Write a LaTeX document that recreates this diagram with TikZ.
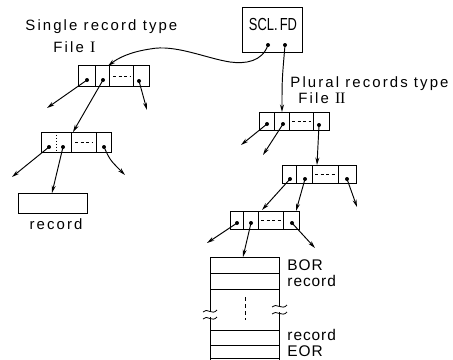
\documentclass[tikz,border=0pt]{standalone}
\usepackage{fontspec}
\setmainfont{Liberation Sans}
\newfontfamily\romfont{Liberation Serif}
\newfontfamily\spaced[LetterSpace=14]{Liberation Sans}
\newfontfamily\lspaced[LetterSpace=6]{Liberation Sans}
\usetikzlibrary{arrows.meta}
\begin{document}
\begin{tikzpicture}[x=1bp,y=-1bp, line width=0.95bp,
  box/.style={draw, rectangle, inner sep=0pt, anchor=north west},
  dotn/.style={circle, fill, inner sep=0pt, minimum size=4bp},
  ptr/.style={-{Stealth[length=7.5bp,width=4bp]}},
  lab/.style={inner sep=0pt, anchor=base west, font=\fontsize{15}{17}\selectfont\spaced},
  rlab/.style={inner sep=0pt, anchor=base west, font=\fontsize{15.5}{17}\selectfont\lspaced},
  celldash/.style={dash pattern=on 3bp off 2.5bp},
  breakmark/.style={line width=0.8bp}
]
\useasboundingbox (0,0) rectangle (453,359);

% ---------- labels ----------
\node[lab] (t1) at (25,30) {Single record type};
\node[lab] (t2) at (53,52) {File {\romfont\fontsize{16}{17}\selectfont I}};
\node[lab] (t3) at (290,87) {Plural records type};
\node[lab] (t4) at (298,103) {File {\romfont\fontsize{16}{17}\selectfont I\kern-0.3bp I}};

% ---------- SCL.FD ----------
\node[box, minimum width=60bp, minimum height=45bp] (scl) at (242,7) {};
\node[inner sep=0pt, anchor=base] (scltxt) at (273,30) {\fontsize{17.5}{19}\selectfont\scalebox{0.74}[1]{SCL.\,FD}};
\node[dotn] (s1) at (268,45) {};
\node[dotn] (s2) at (285,45) {};

% ---------- File I, box a ----------
\node[box, minimum width=71bp, minimum height=21bp] (fa) at (78,65) {};
\draw (95,65)--(95,86) (109,65)--(109,86) (133,65)--(133,86);
\draw[celldash] (113,76)--(131,76);
\node[dotn] (fa1) at (87,80) {};
\node[dotn] (fa2) at (103,80) {};
\node[dotn] (fa4) at (139,81) {};

% ---------- File I, box b ----------
\node[box, minimum width=70bp, minimum height=20bp] (fb) at (41,132) {};
\draw[dotted] (56,132)--(56,152);
\draw (71,132)--(71,152) (96,132)--(96,152);
\draw[celldash] (75,142)--(93,142);
\node[dotn] (fb1) at (49,147) {};
\node[dotn] (fb2) at (63,147) {};
\node[dotn] (fb4) at (104,147) {};

% ---------- record ----------
\node[box, minimum width=69bp, minimum height=20bp] (rec) at (18,193) {};
\node[inner sep=0pt, anchor=base, font=\fontsize{15}{17}\selectfont\spaced] (reclab) at (56,229) {record};

% ---------- File II boxes ----------
\node[box, minimum width=70bp, minimum height=18bp] (r1) at (259,112) {};
\draw (274,112)--(274,130) (289,112)--(289,130) (313,112)--(313,130);
\draw[celldash] (292,121)--(311,121);
\node[dotn] (r11) at (267,124) {};
\node[dotn] (r12) at (283,124) {};
\node[dotn] (r14) at (319,125) {};

\node[box, minimum width=74bp, minimum height=18bp] (r2) at (282,165) {};
\draw (296,165)--(296,183) (312,165)--(312,183) (338,165)--(338,183);
\draw[celldash] (315,174)--(336,174);
\node[dotn] (r21) at (290,179) {};
\node[dotn] (r22) at (305,179) {};
\node[dotn] (r24) at (347,179) {};

\node[box, minimum width=69bp, minimum height=18bp] (r3) at (230,211) {};
\draw (243,211)--(243,229) (258,211)--(258,229) (283,211)--(283,229);
\draw[celldash] (261,220)--(281,220);
\node[dotn] (r31) at (237,223) {};
\node[dotn] (r32) at (251,223) {};
\node[dotn] (r34) at (292,223) {};

% ---------- record stack ----------
\coordinate (stk) at (243,257);
\draw (210,257)--(279,257);
\draw (210,257)--(210,311) (210,317)--(210,362);
\draw (279,257)--(279,306) (279,312)--(279,362);
\draw (210,273)--(279,273) (210,289)--(279,289);
\draw (210,330)--(279,330) (210,345)--(279,345) (210,358)--(279,358);
\draw[dash pattern=on 4bp off 3bp] (245,297)--(245,320);
\draw[breakmark] (203,312) .. controls (207,307) and (212,316) .. (217,310);
\draw[breakmark] (203,319) .. controls (207,314) and (212,323) .. (217,317);
\draw[breakmark] (272,307) .. controls (276,302) and (282,311) .. (287,305);
\draw[breakmark] (272,314) .. controls (276,309) and (282,318) .. (287,312);
\node[rlab] (bor) at (287,270) {BOR};
\node[rlab] (rc1) at (287,286) {record};
\node[rlab] (rc2) at (287,340) {record};
\node[rlab] (eor) at (287,356.3) {EOR};

% ---------- free ends ----------
\coordinate (e1) at (47,108);
\coordinate (e2) at (73,132);
\coordinate (e3) at (147,110);
\coordinate (e4) at (12,177);
\coordinate (e5) at (52,193);
\coordinate (e6) at (125,175);
\coordinate (e7) at (282,112);
\coordinate (e8) at (241,145);
\coordinate (e9) at (263,155);
\coordinate (e10) at (317,165);
\coordinate (e11) at (262,210);
\coordinate (e12) at (296,211);
\coordinate (e13) at (357,207);
\coordinate (e14) at (207,243);
\coordinate (e15) at (315,248);
\coordinate (e16) at (108,66);

% ---------- connectors ----------
\draw[ptr] (s1.center) .. controls (262,62) and (245,64) .. (230,62)
   .. controls (205,58) and (175,44) .. (150,49)
   .. controls (130,52) and (118,58) .. (e16);
\draw[ptr] (s2.center) .. controls (282,80) .. (e7);
\draw[ptr] (fa1.center) -- (e1);
\draw[ptr] (fa2.center) -- (e2);
\draw[ptr] (fa4.center) -- (e3);
\draw[ptr] (fb1.center) -- (e4);
\draw[ptr] (fb2.center) -- (e5);
\draw[ptr] (fb4.center) .. controls (110,160) .. (e6);
\draw[ptr] (r11.center) -- (e8);
\draw[ptr] (r12.center) -- (e9);
\draw[ptr] (r14.center) -- (e10);
\draw[ptr] (r21.center) -- (e11);
\draw[ptr] (r22.center) -- (e12);
\draw[ptr] (r24.center) -- (e13);
\draw[ptr] (r31.center) -- (e14);
\draw[ptr] (r32.center) -- (stk);
\draw[ptr] (r34.center) -- (e15);
\end{tikzpicture}
\end{document}
